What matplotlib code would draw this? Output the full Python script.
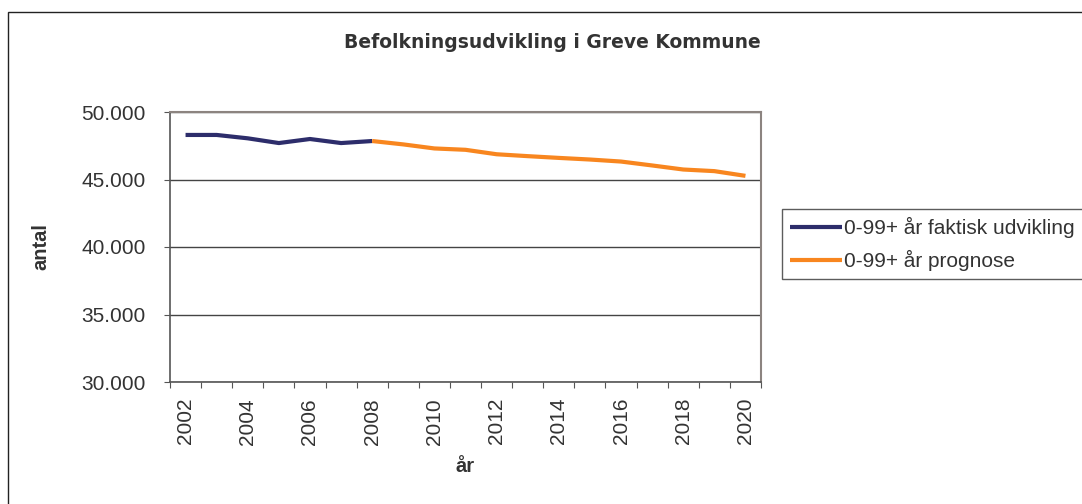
import matplotlib
matplotlib.use("Agg")
import matplotlib.pyplot as plt
from matplotlib.patches import Rectangle
from matplotlib.ticker import FuncFormatter, FixedLocator
import numpy as np

plt.rcParams['font.family'] = ['Liberation Sans', 'DejaVu Sans']

# Data
years = list(range(2002, 2021))
faktisk_years = years[:7]          # 2002-2008
faktisk = [48300, 48300, 48050, 47700, 48000, 47700, 47850]
prognose_years = years[6:]         # 2008-2020
prognose = [47850, 47600, 47300, 47200, 46870, 46730, 46600,
            46480, 46330, 46040, 45740, 45620, 45270]

W, H = 1082, 504
fig = plt.figure(figsize=(W / 100, H / 100), dpi=100)

# outer chart border (extends past right / bottom edge)
fig.patches.append(Rectangle((8 / W, -0.2), 1.5, 1 - 12 / H + 0.2,
                             transform=fig.transFigure, fill=False,
                             edgecolor='#222222', lw=1.0))

ax = fig.add_axes([170 / W, 1 - 382 / H, 591 / W, 270 / H])

idx = {y: i for i, y in enumerate(years)}
navy = '#2d2d6b'
orange = '#f8861f'
ax.plot([idx[y] for y in faktisk_years], faktisk, color=navy, lw=3,
        solid_capstyle='butt', label='0-99+ år faktisk udvikling', zorder=3)
ax.plot([idx[y] for y in prognose_years], prognose, color=orange, lw=3,
        solid_capstyle='butt', label='0-99+ år prognose', zorder=3)

ax.set_xlim(-0.5, len(years) - 0.5)
ax.set_ylim(30000, 50000)
ax.set_yticks([30000, 35000, 40000, 45000, 50000])
ax.yaxis.set_major_formatter(FuncFormatter(lambda v, p: f"{int(v):,}".replace(",", ".")))
ax.grid(axis='y', color='#444444', lw=1.0)
ax.set_axisbelow(True)

# category ticks between labels
ax.xaxis.set_major_locator(FixedLocator(np.arange(-0.5, len(years), 1.0)))
ax.xaxis.set_minor_locator(FixedLocator(np.arange(0, len(years), 2)))
ax.set_xticklabels([])
ax.set_xticklabels([str(y) for y in years[::2]], minor=True, rotation=90)
ax.tick_params(axis='x', which='major', length=4.5, color='#555555', direction='out')
ax.tick_params(axis='x', which='minor', length=0, pad=11.5, labelsize=15, labelcolor='#333333')
ax.tick_params(axis='y', length=4, color='#555555', pad=13.5, labelsize=15, labelcolor='#333333')

for s in ['left', 'bottom']:
    ax.spines[s].set_color('#555555')
    ax.spines[s].set_linewidth(1.2)
for s in ['top', 'right']:
    ax.spines[s].set_color('#8c8480')
    ax.spines[s].set_linewidth(1.5)

fig.text(552 / W, 1 - 43 / H, 'Befolkningsudvikling i Greve Kommune',
         ha='center', va='center', fontsize=13.5, fontweight='bold', color='#333333',
         family='DejaVu Sans')
fig.text(41 / W, 1 - 247 / H, 'antal', rotation=90, ha='center', va='center',
         fontsize=14.5, fontweight='bold', color='#333333')
fig.text(465 / W, 1 - 466 / H, 'år', ha='center', va='center',
         fontsize=14.5, fontweight='bold', color='#333333')

leg = fig.legend(loc='upper left', bbox_to_anchor=(782 / W, 1 - 209 / H),
                 bbox_transform=fig.transFigure, borderaxespad=0,
                 fontsize=15, frameon=True, fancybox=False,
                 handlelength=2.5, handletextpad=0.1, labelspacing=0.55,
                 borderpad=0.4)
leg.get_frame().set_edgecolor('#333333')
leg.get_frame().set_linewidth(1.0)
for t in leg.get_texts():
    t.set_color('#333333')

fig.savefig('out.png', dpi=100)
